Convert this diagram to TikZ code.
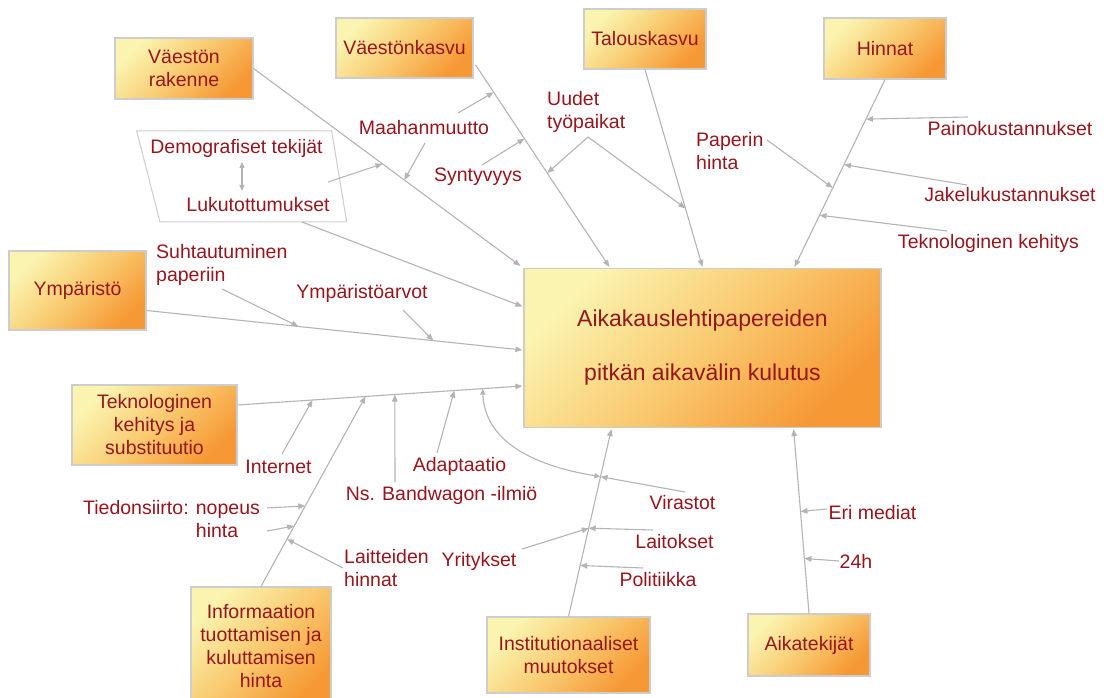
\documentclass[tikz,border=0pt]{standalone}
\usepackage{fontspec}
\setmainfont{Liberation Sans}
\usetikzlibrary{arrows.meta,calc}
\definecolor{txt}{RGB}{150,22,30}
\definecolor{ln}{RGB}{180,180,180}
\definecolor{bx}{RGB}{205,205,205}
\definecolor{gtop}{RGB}{250,244,176}
\definecolor{gmid}{RGB}{249,202,112}
\definecolor{gbot}{RGB}{246,152,52}
\begin{document}
\begin{tikzpicture}[x=1pt,y=-1pt,
  box/.style={draw=bx, line width=1.2pt, top color=gtop, bottom color=gbot,
    middle color=gmid, shading angle=45, text=txt, align=center,
    inner sep=0pt, font=\fontsize{19.5}{23}\selectfont},
  lab/.style={text=txt, inner sep=0pt, font=\fontsize{19.5}{23}\selectfont},
  con/.style={draw=ln, line width=1.1pt, -{Triangle[length=7pt,width=5.5pt]}},
  dbl/.style={draw=ln, line width=1.1pt,
    {Triangle[length=6pt,width=5pt]}-{Triangle[length=6pt,width=5pt]}}]

\fill[white] (0,0) rectangle (1104,698);
\useasboundingbox (0,0) rectangle (1104,698);

% ---------- factor boxes ----------
\node[box, minimum width=138, minimum height=61] (vr) at (184,68.5) {Väestön\\rakenne};
\node[box, minimum width=137, minimum height=60] (vk) at (404.5,48) {Väestönkasvu};
\node[box, minimum width=122, minimum height=60] (tk) at (645,39) {Talouskasvu};
\node[box, minimum width=122, minimum height=61] (hi) at (885,48.5) {Hinnat};
\node[box, minimum width=137, minimum height=79] (ym) at (77.5,290.5) {Ympäristö};
\node[box, minimum width=165, minimum height=80] (te) at (154.5,425) {Teknologinen\\kehitys ja\\substituutio};
\node[box, minimum width=140, minimum height=118] (inf) at (261,646) {Informaation\\tuottamisen ja\\kuluttamisen\\hinta};
\node[box, minimum width=163, minimum height=76] (ist) at (568.5,655) {Institutionaaliset\\muutokset};
\node[box, minimum width=122, minimum height=62] (ai) at (809,645) {Aikatekijät};

% ---------- central box ----------
\node[box, minimum width=357, minimum height=159, font=\fontsize{23}{54}\selectfont]
  (main) at (702.5,348) {Aikakauslehtipapereiden\\pitkän aikavälin kulutus};

% ---------- demographic frame ----------
\draw[draw=bx, line width=1pt] (136.7,131) -- (331.7,131) -- (346.7,222) -- (160,222) -- cycle;
\node[lab] (de) at (236.5,148) {Demografiset tekijät};
\node[lab] (lu) at (258,205) {Lukutottumukset};
\coordinate (de-a) at (242,162);
\coordinate (lu-a) at (242,191);
\draw[dbl] (de-a) -- (lu-a);

% ---------- labels ----------
\node[lab] (mm) at (424,128) {Maahanmuutto};
\node[lab] (sy) at (478,177) {Syntyvyys};
\node[lab, anchor=west, align=left] (uu) at (547,111.5) {Uudet\\työpaikat};
\node[lab, anchor=west, align=left] (ph) at (696,151) {Paperin\\hinta};
\node[lab] (pk) at (1010,129) {Painokustannukset};
\node[lab] (ja) at (1010,195) {Jakelukustannukset};
\node[lab] (tkh) at (988.5,243) {Teknologinen kehitys};
\node[lab, anchor=west, align=left] (su) at (156,265) {Suhtautuminen\\paperiin};
\node[lab] (ya) at (362,293) {Ympäristöarvot};
\node[lab] (int) at (278.5,467) {Internet};
\node[lab] (ad) at (459.5,466) {Adaptaatio};
\node[lab] (bw) at (441.5,495) {Ns. Bandwagon -ilmiö};
\node[lab, anchor=west, align=left] (ti) at (83,519.5) {Tiedonsiirto: nopeus\\\phantom{Tiedonsiirto: }hinta};
\node[lab, anchor=west, align=left] (lh) at (344,568.5) {Laitteiden\\hinnat};
\node[lab] (yr) at (479,561) {Yritykset};
\node[lab] (vi) at (682.5,503) {Virastot};
\node[lab] (lt) at (674.5,542) {Laitokset};
\node[lab] (po) at (658,580) {Politiikka};
\node[lab] (em) at (872.5,513) {Eri mediat};
\node[lab] (h24) at (856,561) {24h};

% ---------- main branches ----------
\coordinate (vrE) at ([shift={(-3,-2)}]main.north west);
\coordinate (vkS) at ([shift={(2,17)}]vk.east);
\coordinate (vkE) at ([shift={(86,-1)}]main.north west);
\coordinate (tkE) at ([shift={(0,-1)}]main.north);
\coordinate (hiE) at ([shift={(-87,-1)}]main.north east);
\coordinate (luS) at (302,222);
\coordinate (luE) at ([shift={(-1,-41.5)}]main.west);
\coordinate (ymS) at ([shift={(0,20)}]ym.east);
\coordinate (ymE) at ([shift={(-1,2)}]main.west);
\coordinate (teS) at ([shift={(0,-20)}]te.east);
\coordinate (teE) at ([shift={(-1,38)}]main.west);
\coordinate (isE) at ([shift={(88,1)}]main.south west);
\coordinate (aiE) at ([shift={(-88,1)}]main.south east);

\draw[con] (vr.east) -- (vrE);
\draw[con] (vkS) -- (vkE);
\draw[con] (tk.south) -- (tkE);
\draw[con] (hi.south) -- (hiE);
\draw[con] (luS) -- (luE);
\draw[con] (ymS) -- (ymE);
\draw[con] (teS) -- (teE);
\draw[con] (ist.north) -- (isE);
\draw[con] (ai.north) -- (aiE);

% ---------- junctions on the branches ----------
\coordinate (j-lu) at ($(vr.east)!0.483!(vrE)$);
\coordinate (j-mm1) at ($(vr.east)!0.565!(vrE)$);
\coordinate (j-mm2) at ($(vkS)!0.135!(vkE)$);
\coordinate (j-sy) at ($(vkS)!0.365!(vkE)$);
\coordinate (j-uu1) at ($(vkS)!0.535!(vkE)$);
\coordinate (j-uu2) at ($(tk.south)!0.703!(tkE)$);
\coordinate (j-pk) at ($(hi.south)!0.211!(hiE)$);
\coordinate (j-ja) at ($(hi.south)!0.454!(hiE)$);
\coordinate (j-ph) at ($(hi.south)!0.578!(hiE)$);
\coordinate (j-tk) at ($(hi.south)!0.724!(hiE)$);
\coordinate (j-su) at ($(ymS)!0.404!(ymE)$);
\coordinate (j-ya) at ($(ymS)!0.763!(ymE)$);
\coordinate (j-int) at ($(teS)!0.263!(teE)$);
\coordinate (j-inf) at ($(teS)!0.449!(teE)$);
\coordinate (j-bw) at ($(teS)!0.552!(teE)$);
\coordinate (j-ad) at ($(teS)!0.761!(teE)$);
\coordinate (j-cu) at ($(teS)!0.860!(teE)$);

\draw[con] (inf.north) -- (j-inf);

\coordinate (j-ti1) at ($(inf.north)!0.424!(j-inf)$);
\coordinate (j-ti2) at ($(inf.north)!0.318!(j-inf)$);
\coordinate (j-la) at ($(inf.north)!0.249!(j-inf)$);
\coordinate (j-vi) at ($(ist.north)!0.746!(isE)$);
\coordinate (j-lt) at ($(ist.north)!0.471!(isE)$);
\coordinate (j-po) at ($(ist.north)!0.272!(isE)$);
\coordinate (j-em) at ($(ai.north)!0.553!(aiE)$);
\coordinate (j-24) at ($(ai.north)!0.298!(aiE)$);

% ---------- sub-cause arrows ----------
\coordinate (lu-o) at (328,182);
\coordinate (mm-u) at (458,113);
\coordinate (mm-d) at (425,143);
\coordinate (sy-o) at (482,165);
\coordinate (uu-o) at (588,137);
\coordinate (ph-o) at (767,140);
\coordinate (pk-o) at (968,117);
\coordinate (ja-o) at (967,185);
\coordinate (tkh-o) at (947,231);
\coordinate (su-o) at (222,289);
\coordinate (ya-o) at (403,310);
\coordinate (int-o) at (282,454);
\coordinate (bw-o) at (395,482);
\coordinate (ad-o) at (437,453);
\coordinate (ti-o1) at (267,508);
\coordinate (ti-o2) at (267,531);
\coordinate (lh-o) at (343,568);
\coordinate (vi-o) at (685,492);
\coordinate (lt-o) at (653,530);
\coordinate (yr-o) at (522,549);
\coordinate (po-o) at (643,568);
\coordinate (em-o) at (827,509);
\coordinate (h24-o) at (839,561);

\draw[con] (lu-o) -- (j-lu);
\draw[con] (mm-u) -- (j-mm2);
\draw[con] (mm-d) -- (j-mm1);
\draw[con] (sy-o) -- (j-sy);
\draw[con] (uu-o) -- (j-uu1);
\draw[con] (uu-o) -- (j-uu2);
\draw[con] (ph-o) -- (j-ph);
\draw[con] (pk-o) -- (j-pk);
\draw[con] (ja-o) -- (j-ja);
\draw[con] (tkh-o) -- (j-tk);
\draw[con] (su-o) -- (j-su);
\draw[con] (ya-o) -- (j-ya);
\draw[con] (int-o) -- (j-int);
\draw[con] (bw-o) -- (j-bw);
\draw[con] (ad-o) -- (j-ad);
\draw[con] (ti-o1) -- (j-ti1);
\draw[con] (ti-o2) -- (j-ti2);
\draw[con] (lh-o) -- (j-la);
\draw[con] (vi-o) -- (j-vi);
\draw[con] (lt-o) -- (j-lt);
\draw[con] (yr-o) -- (j-lt);
\draw[con] (po-o) -- (j-po);
\draw[con] (em-o) -- (j-em);
\draw[con] (h24-o) -- (j-24);

% feedback curve between the two branches
\draw[dbl] (j-vi) .. controls (530,465) and (485,440) .. (j-cu);

\end{tikzpicture}
\end{document}
